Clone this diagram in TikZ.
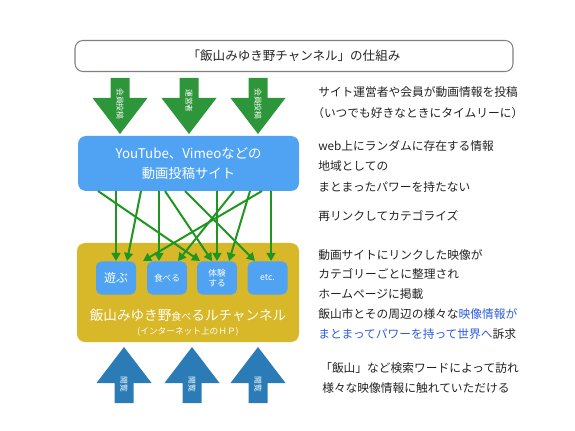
\documentclass[tikz,border=0pt]{standalone}
\usepackage{fontspec}
\setmainfont{Noto Sans CJK JP}
\usetikzlibrary{arrows.meta}
\definecolor{boxblue}{HTML}{4FA3F2}
\definecolor{boxyellow}{HTML}{D8B828}
\definecolor{arrgreen}{HTML}{2E963A}
\definecolor{arrblue}{HTML}{2B7CB6}
\definecolor{conngreen}{HTML}{1F961F}
\definecolor{txt}{HTML}{222222}
\definecolor{hilite}{HTML}{2D5BE3}
\begin{document}
\begin{tikzpicture}[x=0.75pt,y=-0.75pt,
  rt/.style={anchor=west,inner sep=0pt,text=txt,font=\fontsize{8.8pt}{10pt}\selectfont},
  smallbox/.style={fill=boxblue,rounded corners=4pt,minimum width=30pt,minimum height=24.75pt,inner sep=0pt,text=white,align=center,font=\fontsize{6.5pt}{8pt}\selectfont},
  conn/.style={draw=conngreen,line width=1.5pt,-{Triangle[length=6pt,width=6.5pt]}},
  downarr/.style={fill=arrgreen},
  uparr/.style={fill=arrblue},
  arrtext/.style={text=white,rotate=-90,inner sep=0pt,font=\fontsize{5.8pt}{6pt}\selectfont}]
\useasboundingbox (0,0) rectangle (575,431);
% title
\node[draw=black!50,line width=0.8pt,rounded corners=6pt,minimum width=328.5pt,minimum height=23.25pt,inner sep=0pt,text=txt,font=\fontsize{9.4pt}{11pt}\selectfont] (title) at (294,56) {「飯山みゆき野チャンネル」の仕組み};
% green down arrows
\foreach \cx/\cy/\lab [count=\i] in {120/104/会員投稿,189/101/運営者,258/104/会員投稿}{
  \fill[downarr] (\cx-9.5,78) -- (\cx+9.5,78) -- (\cx+9.5,98) -- (\cx+27.5,98) -- (\cx,134) -- (\cx-27.5,98) -- (\cx-9.5,98) -- cycle;
  \node[arrtext] (dl\i) at (\cx,\cy) {\lab};
}
% source box
\node[fill=boxblue,rounded corners=6pt,minimum width=165.75pt,minimum height=41.25pt,inner sep=0pt,text=white,align=center,font=\fontsize{10pt}{15pt}\selectfont] (src) at (188.5,163.5) {YouTube、Vimeoなどの\\動画投稿サイト};
% yellow box
\node[fill=boxyellow,rounded corners=6pt,minimum width=166.5pt,minimum height=74.25pt,inner sep=0pt] (hp) at (188,292.5) {};
\node[text=white,inner sep=0pt,font=\fontsize{10.2pt}{12pt}\selectfont] (hpname) at (188,315) {飯山みゆき野{\fontsize{7.5pt}{9pt}\selectfont 食べ}るルチャンネル};
\node[text=white,inner sep=0pt,font=\fontsize{6.5pt}{8pt}\selectfont] (hpsub) at (188,332) {(インターネット上のＨＰ)};
% small boxes
\node[smallbox,font=\fontsize{9pt}{10pt}\selectfont] (b1) at (116,278) {遊ぶ};
\node[smallbox] (b2) at (167,278) {食べる};
\node[smallbox] (b3) at (217,278) {体験\\する};
\node[smallbox] (b4) at (267.5,278) {etc.};
% connector coordinates
\foreach \n/\sx/\ex in {1/98/200, 2/116/116, 3/141/127, 4/159/159, 5/165/212, 6/185/255, 7/217/217, 8/234/178, 9/250/229, 10/262/143, 11/271/271}{
  \coordinate (s\n) at (\sx,191);
  \coordinate (e\n) at (\ex,261);
}
\foreach \n in {1,...,11}{ \draw[conn] (s\n) -- (e\n); }
% blue up arrows
\foreach \cx [count=\i] in {124,192,258}{
  \fill[uparr] (\cx-9.5,403) -- (\cx+9.5,403) -- (\cx+9.5,383) -- (\cx+27.5,383) -- (\cx,347) -- (\cx-27.5,383) -- (\cx-9.5,383) -- cycle;
  \node[arrtext] (ul\i) at (\cx,384) {閲覧};
}
% right texts
\node[rt] (t1) at (318,92) {サイト運営者や会員が動画情報を投稿};
\node[rt] (t2) at (312,113) {（いつでも好きなときにタイムリーに）};
\node[rt] (t3) at (318,146) {web上にランダムに存在する情報};
\node[rt] (t4) at (318,166) {地域としての};
\node[rt] (t5) at (318,187) {まとまったパワーを持たない};
\node[rt] (t6) at (318,216) {再リンクしてカテゴライズ};
\node[rt] (t7) at (318,255) {動画サイトにリンクした映像が};
\node[rt] (t8) at (318,274) {カテゴリーごとに整理され};
\node[rt] (t9) at (318,294) {ホームページに掲載};
\node[rt] (t10) at (318,314) {飯山市とその周辺の様々な\textcolor{hilite}{映像情報が}};
\node[rt] (t11) at (318,334) {\textcolor{hilite}{まとまってパワーを持って世界へ}訴求};
\node[rt] (t12) at (320,368) {「飯山」など検索ワードによって訪れ};
\node[rt] (t13) at (322,388) {様々な映像情報に触れていただける};
\end{tikzpicture}
\end{document}
